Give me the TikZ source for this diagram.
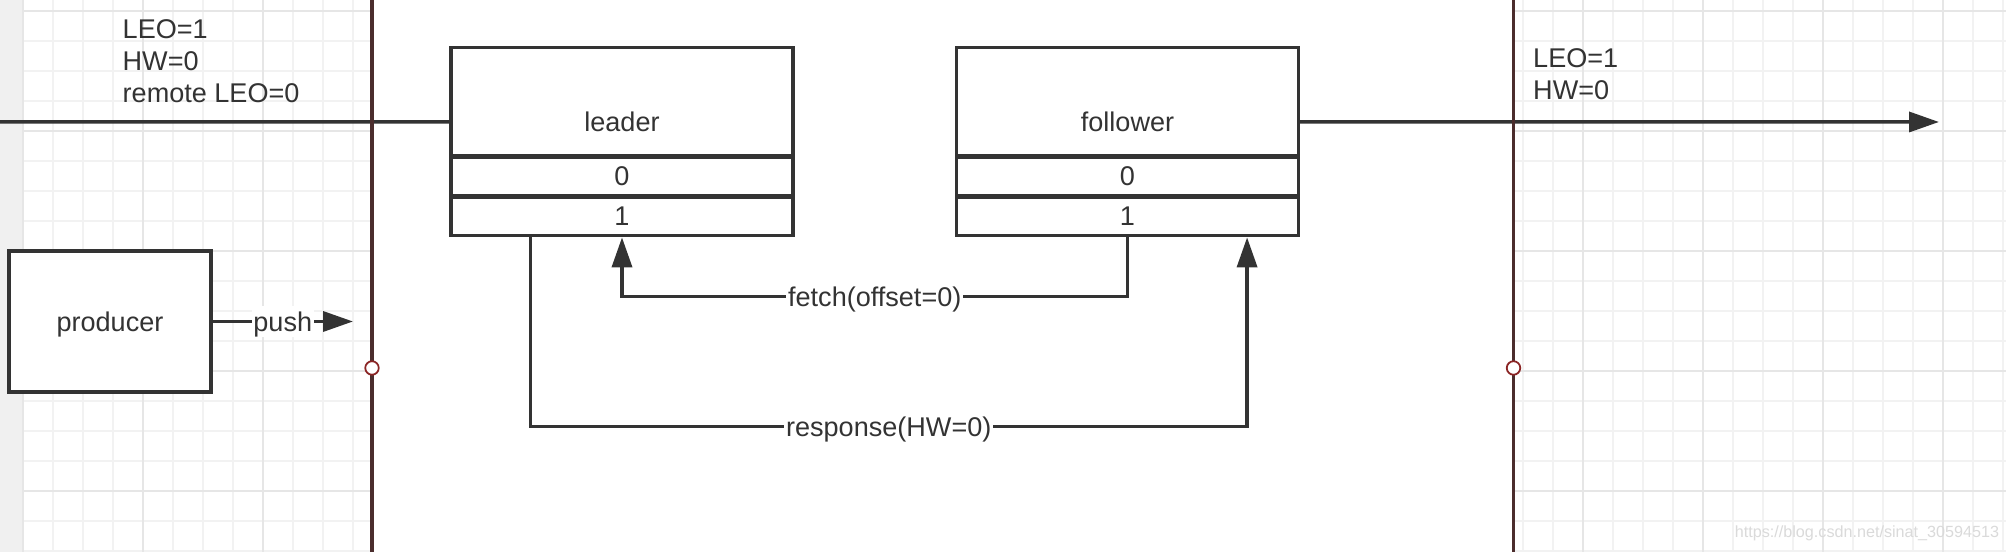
\documentclass[tikz,border=0pt]{standalone}
\usepackage{fontspec}
\setmainfont{Liberation Sans}
\usepackage{tikz}
\usetikzlibrary{arrows.meta, positioning}

\definecolor{ink}{HTML}{333333}
\definecolor{axisred}{HTML}{4B2D2D}
\definecolor{dotred}{HTML}{8B2525}
\definecolor{gridminor}{HTML}{F2F2F2}
\definecolor{gridmajor}{HTML}{E6E6E6}
\definecolor{stripgray}{HTML}{F0F0F0}
\definecolor{markgray}{HTML}{DADADA}

\tikzset{
  every node/.style={font=\fontsize{7.7pt}{9.2pt}\selectfont, text=ink},
  box/.style={draw=ink, line width=0.9pt, fill=white, minimum width=34.2mm, inner xsep=0pt},
  headbox/.style={box, inner ysep=0pt, text height=8.45mm, text depth=2.4mm},
  rowbox/.style={box, inner ysep=0pt, minimum height=3.85mm},
  plain/.style={draw=ink, line width=1pt},
  flow/.style={plain, -{Triangle[length=3mm, width=2mm]}},
  lbl/.style={fill=white, inner xsep=0.5pt, inner ysep=1.5pt, text depth=0pt},
  note/.style={align=left, inner sep=0pt, anchor=north west},
  axis/.style={draw=axisred, line width=1pt},
  dot/.style={circle, draw=dotred, line width=0.5pt, fill=white, minimum size=1.35mm, inner sep=0pt},
  minorline/.style={draw=gridminor, line width=0.3pt},
  majorline/.style={draw=gridmajor, line width=0.45pt}
}

\begin{document}
\begin{tikzpicture}[x=0.1mm, y=-0.1mm]
  \useasboundingbox (0,0) rectangle (2006,552);
  \fill[white] (0,0) rectangle (2006,552);
  \fill[stripgray] (0,0) rectangle (22,552);

  % grid left of the leader
  \foreach \gx in {23,53,...,353} {
    \draw[minorline] (\gx,0) -- (\gx,552);
  }
  \foreach \gy in {11,41,...,551} {
    \draw[minorline] (22,\gy) -- (372,\gy);
  }
  \foreach \gx in {23,143,263} {
    \draw[majorline] (\gx,0) -- (\gx,552);
  }
  \foreach \gy in {11,131,251,371,491} {
    \draw[majorline] (22,\gy) -- (372,\gy);
  }

  % grid right of the follower
  \foreach \gx in {1523,1553,...,2003} {
    \draw[minorline] (\gx,0) -- (\gx,552);
  }
  \foreach \gy in {11,41,...,551} {
    \draw[minorline] (1513,\gy) -- (2006,\gy);
  }
  \foreach \gx in {1583,1703,1823,1943} {
    \draw[majorline] (\gx,0) -- (\gx,552);
  }
  \foreach \gy in {11,131,251,371,491} {
    \draw[majorline] (1513,\gy) -- (2006,\gy);
  }

  % boxes
  \node[headbox, anchor=base] (leader) at (622,132) {leader};
  \node[rowbox, below=-0.5pt of leader] (leader0) {0};
  \node[rowbox, below=-0.5pt of leader0] (leader1) {1};

  \node[headbox, anchor=base] (follower) at (1127.5,132) {follower};
  \node[rowbox, below=-0.5pt of follower] (follower0) {0};
  \node[rowbox, below=-0.5pt of follower0] (follower1) {1};

  \node[box, minimum width=20.2mm, minimum height=14.1mm, text depth=0pt] (producer) at (110,321.5) {producer};

  \node[note] (leadernote) at (122,18.5) {LEO=1\\HW=0\\remote LEO=0};
  \node[note] (followernote) at (1532.5,47.5) {LEO=1\\HW=0};

  % log line
  \coordinate (logstart) at (0,122);
  \coordinate (logend) at (1939,122);
  \draw[plain] (logstart) -- ([yshift=1mm]leader.base west);
  \draw[flow] ([yshift=1mm]follower.base east) -- (logend);

  % boundaries
  \coordinate (lefttop) at (372,0);
  \coordinate (leftbottom) at (372,552);
  \coordinate (righttop) at (1513.5,0);
  \coordinate (rightbottom) at (1513.5,552);
  \draw[axis] (lefttop) -- (leftbottom);
  \draw[axis] (righttop) -- (rightbottom);
  \node[dot] (leftdot) at (372,368) {};
  \node[dot] (rightdot) at (1513.5,368) {};

  % requests
  \coordinate (pushend) at (353,321.5);
  \draw[flow] (producer.east) -- node[lbl] {push} (pushend);
  \draw[flow] (follower1.south) -- ++(0,59) -| node[lbl, pos=0.25] {fetch(offset=0)} (leader1.south);
  \draw[flow] ([xshift=8.1mm]leader1.south west) -- ++(0,189) -| node[lbl, pos=0.25] {response(HW=0)} ([xshift=-5.3mm]follower1.south east);

  \node[font=\fontsize{4.6pt}{5pt}\selectfont, text=markgray] (mark) at (1867,533) {https://blog.csdn.net/sinat\_30594513};
\end{tikzpicture}
\end{document}
